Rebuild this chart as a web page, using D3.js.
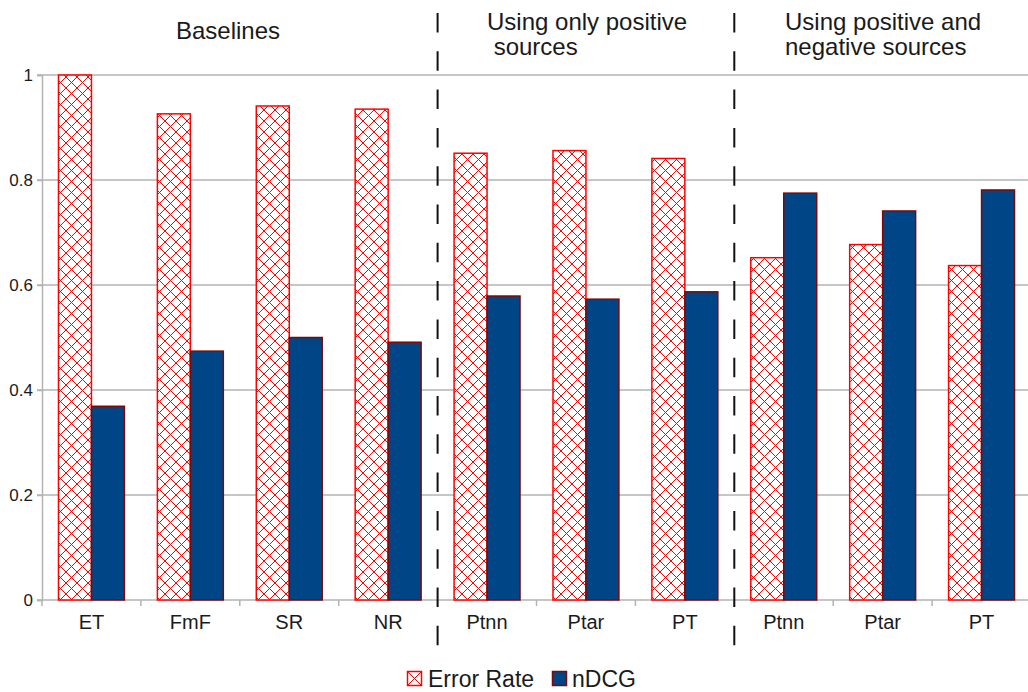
<!DOCTYPE html>
<html>
    <head>
        <meta charset="UTF-8">
        <script src="https://d3js.org/d3.v7.min.js"></script>
        <style>
            body { margin: 0; background: #fff; }
            text { font-family: "Liberation Sans", Arial, sans-serif; fill: #1a1a1a; }
        </style>
    </head>

    <body>

        <svg id="canvas"></svg>

        <script>

            categories = ["ET", "FmF", "SR", "NR", "Ptnn", "Ptar", "PT", "Ptnn", "Ptar", "PT"];
            errorRate  = [1.00, 0.926, 0.941, 0.935, 0.851, 0.856, 0.841, 0.652, 0.677, 0.637];
            ndcg       = [0.369, 0.474, 0.500, 0.491, 0.579, 0.573, 0.587, 0.775, 0.741, 0.781];
            yTicks     = [0, 0.2, 0.4, 0.6, 0.8, 1];
            seriesNames = ["Error Rate", "nDCG"];
            groupLabels = [["Baselines"], ["Using only positive", " sources"], ["Using positive and", "negative sources"]];
            groupBreaks = [4, 7];   // dashed separators sit before these category indices

            width = 1028;
            height = 692;
            margin = {left: 42, right: -3, top: 75, bottom: 92};

            canvas = d3.select("#canvas")
                .attr("width", width)
                .attr("height", height);

            defs = canvas.append("defs");
            hatch = defs.append("pattern")
                .attr("id", "hatch")
                .attr("patternUnits", "userSpaceOnUse")
                .attr("width", 11)
                .attr("height", 11);
            hatch.append("rect").attr("width", 11).attr("height", 11).attr("fill", "#fff");
            hatch.append("path")
                .attr("d", "M0,0L11,11M11,0L0,11M-1,1L1,-1M10,12L12,10M-1,10L1,12M10,-1L12,1")
                .attr("stroke", "#ff0000")
                .attr("stroke-width", 1);

            x = d3.scaleBand()
                .domain(d3.range(categories.length))
                .range([margin.left, width - margin.right]);

            y = d3.scaleLinear()
                .domain([0, 1])
                .range([height - margin.bottom, margin.top]);

            // gridlines
            canvas.append("g")
                .selectAll("line")
                .data(yTicks).enter()
                    .append("line")
                        .attr("x1", margin.left - 5)
                        .attr("x2", width)
                        .attr("y1", d => y(d))
                        .attr("y2", d => y(d))
                        .attr("stroke", "#b3b3b3")
                        .attr("stroke-width", 1.5);

            // y axis
            yAxis = canvas.append("g")
                .attr("transform", "translate(" + margin.left + ",0)")
                .call(d3.axisLeft(y).tickValues(yTicks).tickSize(5).tickPadding(4)
                    .tickFormat(d => d === 0 || d === 1 ? d3.format("d")(d) : d3.format(".1f")(d)));
            yAxis.select(".domain").attr("stroke", "#b3b3b3").attr("stroke-width", 1.5);
            yAxis.selectAll(".tick line").attr("stroke", "#b3b3b3").attr("stroke-width", 1.5);
            yAxis.selectAll(".tick text")
                .attr("font-size", 17)
                .attr("font-family", "Liberation Sans, Arial, sans-serif")
                .attr("fill", "#1a1a1a");

            // x ticks at category boundaries
            canvas.append("g")
                .selectAll("line")
                .data(d3.range(categories.length + 1)).enter()
                    .append("line")
                        .attr("x1", i => margin.left + i * x.step())
                        .attr("x2", i => margin.left + i * x.step())
                        .attr("y1", y(0))
                        .attr("y2", y(0) + 6)
                        .attr("stroke", "#b3b3b3")
                        .attr("stroke-width", 1.5);

            canvas.append("g")
                .selectAll("text")
                .data(categories).enter()
                    .append("text")
                        .attr("x", (d, i) => x(i) + x.bandwidth() / 2)
                        .attr("y", y(0) + 29)
                        .attr("text-anchor", "middle")
                        .attr("font-size", 20)
                        .text(d => d);

            bw = x.bandwidth() / 3;

            canvas.append("g")
                .selectAll("rect")
                .data(errorRate).enter()
                    .append("rect")
                        .attr("x", (d, i) => x(i) + bw / 2)
                        .attr("y", d => y(d))
                        .attr("width", bw)
                        .attr("height", d => y(0) - y(d))
                        .attr("fill", "url(#hatch)")
                        .attr("stroke", "#ff0000")
                        .attr("stroke-width", 1.5);

            canvas.append("g")
                .selectAll("rect")
                .data(ndcg).enter()
                    .append("rect")
                        .attr("x", (d, i) => x(i) + bw * 1.5)
                        .attr("y", d => y(d))
                        .attr("width", bw)
                        .attr("height", d => y(0) - y(d))
                        .attr("fill", "#004586")
                        .attr("stroke", "#7a0a0a")
                        .attr("stroke-width", 1.5);

            // dashed group separators
            canvas.append("g")
                .selectAll("line")
                .data(groupBreaks).enter()
                    .append("line")
                        .attr("x1", i => margin.left + i * x.step())
                        .attr("x2", i => margin.left + i * x.step())
                        .attr("y1", 13)
                        .attr("y2", 647)
                        .attr("stroke", "#111")
                        .attr("stroke-width", 2)
                        .attr("stroke-dasharray", "19.5,18.8");

            // group headers
            headerX = [176, 487, 785];
            headerY = [39, 30, 30];
            groupLabels.forEach((lines, g) => {
                t = canvas.append("text")
                    .attr("x", headerX[g])
                    .attr("y", headerY[g])
                    .attr("font-size", 24)
                    .style("white-space", "pre");
                lines.forEach((ln, k) => {
                    t.append("tspan")
                        .attr("x", headerX[g])
                        .attr("dy", k === 0 ? 0 : 25)
                        .text(ln);
                });
            });

            // legend
            legend = canvas.append("g").attr("transform", "translate(0,-2)");
            legend.append("rect")
                .attr("x", 407.5).attr("y", 673.5).attr("width", 14).attr("height", 14)
                .attr("fill", "#fff").attr("stroke", "#ff0000").attr("stroke-width", 1.5);
            legend.append("path")
                .attr("d", "M407.5,673.5L421.5,687.5M421.5,673.5L407.5,687.5")
                .attr("stroke", "#ff0000").attr("stroke-width", 1);
            legend.append("text")
                .attr("x", 428).attr("y", 688.5).attr("font-size", 23)
                .text(seriesNames[0]);
            legend.append("rect")
                .attr("x", 552.5).attr("y", 673.5).attr("width", 14).attr("height", 14)
                .attr("fill", "#004586").attr("stroke", "#7a0a0a").attr("stroke-width", 1.5);
            legend.append("text")
                .attr("x", 572).attr("y", 688.5).attr("font-size", 23)
                .text(seriesNames[1]);

        </script>

    </body>

</html>
